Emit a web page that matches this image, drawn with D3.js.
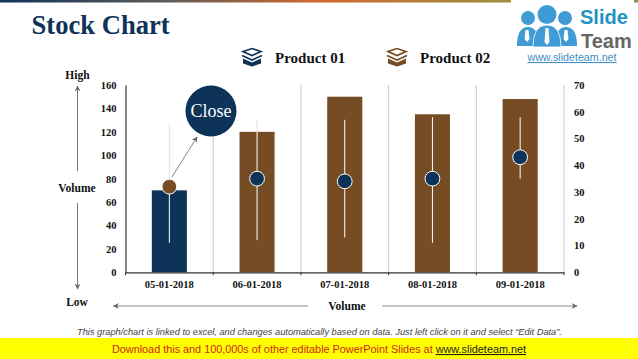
<!DOCTYPE html>
<html>
<head>
<meta charset="utf-8">
<script src="https://cdn.jsdelivr.net/npm/d3@7"></script>
<style>
  html, body { margin: 0; padding: 0; background: #fff; }
  svg { display: block; }
  .serif { font-family: "Liberation Serif", serif; font-weight: bold; fill: #111; }
  .axis text { font-family: "Liberation Serif", serif; font-weight: bold; font-size: 10.5px; fill: #111; }
</style>
</head>
<body>
<script>
// chart data
const dates = ["05-01-2018", "06-01-2018", "07-01-2018", "08-01-2018", "09-01-2018"];
const volume = [70, 120, 150, 135, 148];
const high = [55, 57, 57, 58, 58];
const low = [11, 12, 13, 11, 35];
const closing = [32, 35, 34, 35, 43];
const barColors = ["#0e3358", "#754c24", "#754c24", "#754c24", "#754c24"];
const dotColors = ["#754c24", "#0e3358", "#0e3358", "#0e3358", "#0e3358"];
const products = ["Product 01", "Product 02"];
const productColors = ["#0e3358", "#754c24"];

const navy = "#0e3358";
const width = 638, height = 359;
const plotLeft = 125.5, plotRight = 564, plotTop = 85, plotBottom = 272.3;

const svg = d3.select("body").append("svg")
  .attr("width", width)
  .attr("height", height);

// top colour strip
const defs = svg.append("defs");
const grad = defs.append("linearGradient").attr("id", "strip");
[[0, "#0e3358"], [0.25, "#5b5a5a"], [0.5, "#d2692f"], [0.8, "#9a8f3a"], [1, "#7d9a3c"]].forEach(s => {
  grad.append("stop").attr("offset", s[0]).attr("stop-color", s[1]);
});
svg.append("rect").attr("width", width).attr("height", 2.5).attr("fill", "url(#strip)");

// title
svg.append("text")
  .attr("class", "serif")
  .attr("x", 31.5).attr("y", 34)
  .style("font-size", "26.6px")
  .style("fill", navy)
  .text("Stock Chart");

// scales
const x = d3.scaleBand().domain(dates).range([plotLeft, plotRight]).paddingInner(0.6).paddingOuter(0.3);
const yLeft = d3.scaleLinear().domain([0, 160]).range([plotBottom, plotTop]);
const yRight = d3.scaleLinear().domain([0, 70]).range([plotBottom, plotTop]);
const xEdge = d3.scaleLinear().domain([0, dates.length]).range([plotLeft, plotRight]);
const mid = d => x(d) + x.bandwidth() / 2;

// separators between the categories
svg.append("g").selectAll("line")
  .data(d3.range(1, dates.length + 1))
  .join("line")
  .attr("x1", d => xEdge(d)).attr("x2", d => xEdge(d))
  .attr("y1", plotTop).attr("y2", plotBottom)
  .attr("stroke", "#c9c9c9");

// high-low line above the bar shows grey, over the bar it shows white
svg.append("g").selectAll("line")
  .data(dates)
  .join("line")
  .attr("x1", mid).attr("x2", mid)
  .attr("y1", (d, i) => yRight(high[i])).attr("y2", (d, i) => yRight(low[i]))
  .attr("stroke", "#e2e2e2");

// bars
svg.append("g").selectAll("rect")
  .data(dates)
  .join("rect")
  .attr("x", d => x(d))
  .attr("width", x.bandwidth())
  .attr("y", (d, i) => yLeft(volume[i]))
  .attr("height", (d, i) => plotBottom - yLeft(volume[i]))
  .attr("fill", (d, i) => barColors[i]);

// white part of the high-low line
svg.append("g").selectAll("line")
  .data(dates)
  .join("line")
  .attr("x1", mid).attr("x2", mid)
  .attr("y1", (d, i) => Math.max(yRight(high[i]), yLeft(volume[i])))
  .attr("y2", (d, i) => yRight(low[i]))
  .attr("stroke", "#fff");

// axes
const gx = svg.append("g").attr("class", "axis")
  .attr("transform", `translate(0,${plotBottom})`)
  .call(d3.axisBottom(x).tickSize(0).tickPadding(8));
gx.select(".domain").attr("stroke", "#333").attr("stroke-width", 1.2);
gx.selectAll(".edge")
  .data(d3.range(0, dates.length + 1))
  .join("line")
  .attr("class", "edge")
  .attr("x1", d => xEdge(d)).attr("x2", d => xEdge(d))
  .attr("y1", 0).attr("y2", 3)
  .attr("stroke", "#333");

const gl = svg.append("g").attr("class", "axis")
  .attr("transform", `translate(${plotLeft},0)`)
  .call(d3.axisLeft(yLeft).tickValues(d3.range(0, 161, 20)).tickSize(0).tickPadding(9));
gl.select(".domain").attr("stroke", "#333").attr("stroke-width", 1.2);

const gr = svg.append("g").attr("class", "axis")
  .attr("transform", `translate(${plotRight},0)`)
  .call(d3.axisRight(yRight).tickValues(d3.range(0, 71, 10)).tickSize(0).tickPadding(10));
gr.select(".domain").remove();

// close markers
svg.append("g").selectAll("circle")
  .data(dates)
  .join("circle")
  .attr("cx", mid)
  .attr("cy", (d, i) => yRight(closing[i]))
  .attr("r", 7.4)
  .attr("fill", (d, i) => dotColors[i])
  .attr("stroke", "#fff")
  .attr("stroke-width", 1);

// Close callout
defs.append("marker").attr("id", "head").attr("viewBox", "0 0 10 10")
  .attr("refX", 9).attr("refY", 5)
  .attr("markerWidth", 6).attr("markerHeight", 6)
  .attr("markerUnits", "userSpaceOnUse")
  .attr("orient", "auto")
  .append("path").attr("d", "M0,0L10,5L0,10L3,5Z").attr("fill", "#666");

svg.append("circle").attr("cx", 211).attr("cy", 111).attr("r", 25.5).attr("fill", navy);
svg.append("text")
  .attr("x", 211).attr("y", 117)
  .attr("text-anchor", "middle")
  .style("font-family", "'Liberation Serif', serif")
  .style("font-size", "18px")
  .style("fill", "#fff")
  .text("Close");

function arrow(x1, y1, x2, y2, color, w) {
  svg.append("line")
    .attr("x1", x1).attr("y1", y1).attr("x2", x2).attr("y2", y2)
    .attr("stroke", color).attr("stroke-width", w)
    .attr("marker-end", "url(#head)");
}
arrow(172, 177, 197, 137, "#666", 0.8);
arrow(77.5, 171, 77.5, 86, "#777", 1);
arrow(77.5, 203, 77.5, 289, "#777", 1);
arrow(308, 306, 113.5, 306, "#b0b0b0", 1.6);
arrow(382, 306, 577, 306, "#b0b0b0", 1.6);

// side labels
function label(t, xp, yp, size) {
  svg.append("text").attr("class", "serif")
    .attr("x", xp).attr("y", yp)
    .attr("text-anchor", "middle")
    .style("font-size", size + "px")
    .text(t);
}
label("High", 77.5, 79, 11.5);
label("Volume", 77, 192, 11.5);
label("Low", 77, 306, 11.5);
label("Volume", 347, 310, 11.5);

// legend
const legendX = [252, 397];
const legend = svg.append("g").selectAll("g")
  .data(products)
  .join("g")
  .attr("transform", (d, i) => `translate(${legendX[i]},57)`);
legend.append("path")
  .attr("d", "M-9,1.5L0,5.5L9,1.5L9,6.5L0,9.5L-9,6.5Z")
  .attr("fill", (d, i) => productColors[i]);
legend.append("path")
  .attr("d", "M-10,-1.5L0,3L10,-1.5")
  .attr("fill", "none")
  .attr("stroke", (d, i) => productColors[i])
  .attr("stroke-width", 1.6);
legend.append("path")
  .attr("d", "M-9,-5.5L0,-8.5L9,-5.5L0,-1.5Z")
  .attr("fill", "none")
  .attr("stroke", (d, i) => productColors[i])
  .attr("stroke-width", 1.6);
legend.append("text").attr("class", "serif")
  .attr("x", 23).attr("y", 5.5)
  .style("font-size", "15px")
  .text(d => d);

// logo
const logo = svg.append("g");
const blue = "#3f9bd4";
logo.append("rect").attr("x", 511).attr("width", 123).attr("height", 64).attr("fill", "#fff");
[[528, 18, 7], [547, 14.5, 9.5], [565, 18, 7]].forEach(c => {
  logo.append("circle").attr("cx", c[0]).attr("cy", c[1]).attr("r", c[2]).attr("fill", blue);
});
logo.append("path").attr("d", "M517,46Q517,27 528,27Q539,27 539,46Z").attr("fill", blue);
logo.append("path").attr("d", "M555,46Q555,27 566,27Q577,27 577,46Z").attr("fill", blue);
logo.append("path").attr("d", "M533,47Q533,25 547,25Q561,25 561,47Z").attr("fill", blue).attr("stroke", "#fff").attr("stroke-width", 0.8);
[[527, 30, 42], [547, 28, 45], [566, 30, 42]].forEach(c => {
  logo.append("path").attr("d", `M${c[0] - 1.5},${c[1]}h3l1,${c[2] - c[1] - 3}l-2.5,3l-2.5,-3Z`).attr("fill", "#fff");
});
logo.append("text").attr("x", 580).attr("y", 23.5)
  .style("font-family", "'Liberation Sans', sans-serif").style("font-weight", "bold")
  .style("font-size", "20px").style("fill", "#1f93c4").text("Slide");
logo.append("text").attr("x", 581).attr("y", 47.5)
  .style("font-family", "'Liberation Sans', sans-serif").style("font-weight", "bold")
  .style("font-size", "20px").style("fill", "#666").text("Team");
logo.append("text").attr("x", 572).attr("y", 61)
  .attr("text-anchor", "middle")
  .style("font-family", "'Liberation Sans', sans-serif")
  .style("font-size", "10.7px").style("fill", "#3f8fc4").style("text-decoration", "underline")
  .text("www.slideteam.net");

// note
svg.append("text").attr("x", 319.5).attr("y", 335)
  .attr("text-anchor", "middle")
  .style("font-family", "'Liberation Sans', sans-serif")
  .style("font-style", "italic")
  .style("font-size", "9.25px").style("fill", "#444")
  .text("This graph/chart is linked to excel, and changes automatically based on data. Just left click on it and select \u201cEdit Data\u201d.");

// download strip
svg.append("rect").attr("y", 338).attr("width", width).attr("height", 21).attr("fill", "#ffff00");
const foot = svg.append("text").attr("x", 319).attr("y", 353)
  .attr("text-anchor", "middle")
  .style("font-family", "'Liberation Sans', sans-serif")
  .style("font-size", "10.85px").style("fill", "#d0261a");
foot.append("tspan").text("Download this and 100,000s of other editable PowerPoint Slides at ");
foot.append("tspan").style("fill", "#222").style("text-decoration", "underline").text("www.slideteam.net");
</script>
</body>
</html>
